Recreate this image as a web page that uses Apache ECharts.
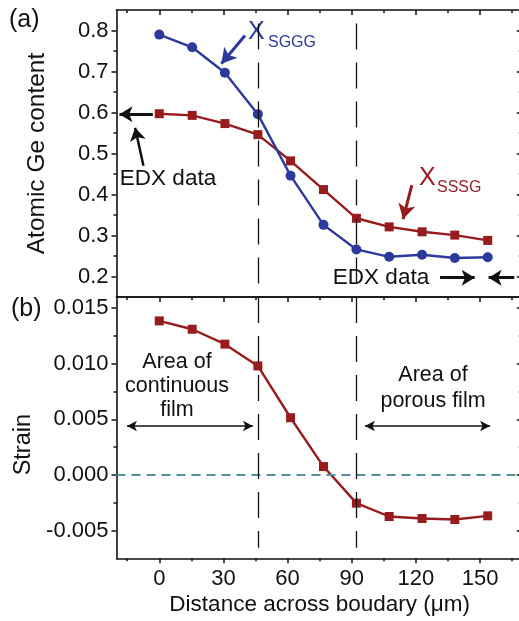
<!DOCTYPE html>
<html>
<head>
<meta charset="utf-8">
<script src="https://cdn.jsdelivr.net/npm/echarts@6/dist/echarts.min.js"></script>
<style>html,body{margin:0;padding:0;background:#fff;}#c{width:519px;height:621px;}</style>
</head>
<body>
<div id="c"></div>
<script>
// ---------- data ----------
const distance = [0, 15.4, 30.7, 46.1, 61.4, 76.8, 92.2, 107.5, 122.9, 138.2, 153.6];
const xSGGG = [0.790, 0.759, 0.697, 0.596, 0.446, 0.326, 0.266, 0.248, 0.253, 0.245, 0.247];
const xSSSG = [0.597, 0.593, 0.573, 0.546, 0.482, 0.412, 0.342, 0.321, 0.309, 0.301, 0.288];
const strain = [0.01385, 0.0131, 0.01176, 0.0098, 0.00514, 0.00075, -0.00254, -0.00374, -0.00392, -0.00401, -0.00368];
const xMajorTicks = [0, 30, 60, 90, 120, 150];
const xMinorTicks = [-15, 15, 45, 75, 105, 135, 165];
const geMajorTicks = [0.2, 0.3, 0.4, 0.5, 0.6, 0.7, 0.8];
const geMinorTicks = [0.25, 0.35, 0.45, 0.55, 0.65, 0.75];
const strainMajorTicks = [-0.005, 0, 0.005, 0.01, 0.015];
const strainMinorTicks = [-0.0025, 0.0025, 0.0075, 0.0125];
const boundaryX = [46.2, 92.1];
const edxLeft = 0.596;
const edxRight = 0.197;

// ---------- styling ----------
const FONT = 'Liberation Sans, Arial, Helvetica, sans-serif';
const BLUE = '#2c3a9c';
const RED = '#981b1e';
const BLACK = '#111';

const chart = echarts.init(document.getElementById('c'), null, {renderer: 'canvas'});

const xRange = {min: -20, max: 170};
const geRange = {min: 0.15, max: 0.85};
const strainRange = {min: -0.0075, max: 0.016};

function xAx(grid, pos, ticks, len, inside, line, labels, extra) {
  return Object.assign({
    type: 'value', gridIndex: grid, position: pos, min: xRange.min, max: xRange.max,
    axisLine: {show: line, onZero: false, lineStyle: {color: BLACK, width: 1.6}},
    axisTick: {show: true, inside: inside, length: len, customValues: ticks, lineStyle: {color: BLACK, width: 1.5}},
    axisLabel: labels ? {show: true, customValues: ticks, color: BLACK, fontSize: 22, fontFamily: FONT, margin: 10} : {show: false},
    splitLine: {show: false}
  }, extra || {});
}
function yAx(grid, pos, range, ticks, len, inside, line, labels, extra) {
  return Object.assign({
    type: 'value', gridIndex: grid, position: pos, min: range.min, max: range.max,
    axisLine: {show: line, onZero: false, lineStyle: {color: BLACK, width: 1.6}},
    axisTick: {show: true, inside: inside, length: len, customValues: ticks, lineStyle: {color: BLACK, width: 1.5}},
    axisLabel: labels ? Object.assign({show: true, customValues: ticks, color: BLACK, fontSize: 22, fontFamily: FONT, margin: 8}, labels) : {show: false},
    splitLine: {show: false}
  }, extra || {});
}

function arrow(p1, p2, color, width, both, size) {
  return [
    {coord: p1, symbol: both ? 'arrow' : 'none', symbolSize: size, lineStyle: {color: color, width: width, type: 'solid'}},
    {coord: p2, symbol: 'arrow', symbolSize: size}
  ];
}

const option = {
  animation: false,
  backgroundColor: '#fff',
  grid: [
    {left: 116.5, top: 10, width: 406.3, height: 287, outerBoundsMode: 'none', containLabel: false},
    {left: 116.5, top: 297, width: 406.3, height: 261.3, outerBoundsMode: 'none', containLabel: false}
  ],
  xAxis: [
    xAx(0, 'bottom', xMajorTicks, 5, false, true, false),
    xAx(0, 'top', xMajorTicks, 5, true, true, false),
    xAx(0, 'bottom', xMinorTicks, 3, false, false, false),
    xAx(0, 'top', xMinorTicks, 3, true, false, false),
    xAx(1, 'bottom', xMajorTicks, 5, false, true, true, {
      name: 'Distance across boudary (\u03bcm)', nameLocation: 'middle', nameGap: 35,
      nameTextStyle: {color: BLACK, fontSize: 22.5, fontFamily: FONT}
    }),
    xAx(1, 'top', xMajorTicks, 5, true, true, false),
    xAx(1, 'bottom', xMinorTicks, 3, false, false, false),
    xAx(1, 'top', xMinorTicks, 3, true, false, false)
  ],
  yAxis: [
    yAx(0, 'left', geRange, geMajorTicks, 5, false, true, {formatter: v => v.toFixed(1)}, {
      name: 'Atomic Ge content', nameLocation: 'middle', nameGap: 67,
      nameTextStyle: {color: BLACK, fontSize: 24.5, fontFamily: FONT}
    }),
    yAx(0, 'right', geRange, geMajorTicks, 6, true, true, null),
    yAx(0, 'left', geRange, geMinorTicks, 3, false, false, null),
    yAx(0, 'right', geRange, geMinorTicks, 4, true, false, null),
    yAx(1, 'left', strainRange, strainMajorTicks, 5, false, true, {formatter: v => v.toFixed(3)}, {
      name: 'Strain', nameLocation: 'middle', nameGap: 79,
      nameTextStyle: {color: BLACK, fontSize: 23.5, fontFamily: FONT, padding: [0, 34, 0, 0]}
    }),
    yAx(1, 'right', strainRange, strainMajorTicks, 6, true, true, null),
    yAx(1, 'left', strainRange, strainMinorTicks, 3, false, false, null),
    yAx(1, 'right', strainRange, strainMinorTicks, 4, true, false, null)
  ],
  series: [
    {
      name: 'X_SSSG', type: 'line', xAxisIndex: 0, yAxisIndex: 0,
      data: distance.map((d, i) => [d, xSSSG[i]]),
      symbol: 'rect', symbolSize: 9, itemStyle: {color: RED},
      lineStyle: {color: RED, width: 2.4}, z: 3
    },
    {
      name: 'X_SGGG', type: 'line', xAxisIndex: 0, yAxisIndex: 0,
      data: distance.map((d, i) => [d, xSGGG[i]]),
      symbol: 'circle', symbolSize: 10, itemStyle: {color: BLUE},
      lineStyle: {color: BLUE, width: 2.4}, z: 4,
      markLine: {
        silent: true, symbol: 'none', label: {show: false}, z: 5,
        data: [
          arrow([40.1, 0.788], [29.0, 0.719], BLUE, 3, false, [13, 15]),
          arrow([118.1, 0.423], [114.0, 0.340], RED, 3, false, [13, 15]),
          arrow([-7.4, 0.470], [-11.3, 0.563], BLACK, 2.5, false, [12, 13]),
          arrow([-3.0, edxLeft], [-18.6, edxLeft], BLACK, 3, false, [12, 13]),
          arrow([131.3, edxRight], [147.5, edxRight], BLACK, 3, false, [12, 13]),
          arrow([166, edxRight], [154.0, edxRight], BLACK, 3, false, [12, 13]),
          ...boundaryX.map(b => [
            {coord: [b, 0.817], symbol: 'none', lineStyle: {color: BLACK, width: 1.3, type: [26, 13]}},
            {coord: [b, geRange.min], symbol: 'none'}
          ])
        ]
      }
    },
    {
      name: 'Strain', type: 'line', xAxisIndex: 4, yAxisIndex: 4,
      data: distance.map((d, i) => [d, strain[i]]),
      symbol: 'rect', symbolSize: 9, itemStyle: {color: RED},
      lineStyle: {color: RED, width: 2.4}, z: 3,
      markLine: {
        silent: true, symbol: 'none', label: {show: false}, z: 5,
        data: [
          [{coord: [xRange.min, 0], symbol: 'none', lineStyle: {color: '#5b8e9c', width: 2, type: [9, 6]}},
           {coord: [xRange.max, 0], symbol: 'none'}],
          ...boundaryX.map(b => [
            {coord: [b, strainRange.max], symbol: 'none', lineStyle: {color: BLACK, width: 1.3, type: [26, 13]}},
            {coord: [b, -0.00655], symbol: 'none'}
          ]),
          arrow([-15.1, 0.0044], [43.8, 0.0044], BLACK, 1.5, true, [8, 10]),
          arrow([96.2, 0.0044], [154.7, 0.0044], BLACK, 1.5, true, [8, 10])
        ]
      }
    }
  ],
  graphic: [
    {type: 'text', left: 9, top: 8, style: {text: '(a)', fontSize: 25, fontFamily: FONT, fill: BLACK}},
    {type: 'text', left: 11, top: 297, style: {text: '(b)', fontSize: 25, fontFamily: FONT, fill: BLACK}},
    {type: 'text', left: 248, top: 20, style: {text: 'X', fontSize: 25, fontFamily: FONT, fill: BLUE}},
    {type: 'text', left: 268, top: 35, style: {text: 'SGGG', fontSize: 16, fontFamily: FONT, fill: BLUE}},
    {type: 'text', left: 419, top: 166, style: {text: 'X', fontSize: 25, fontFamily: FONT, fill: RED}},
    {type: 'text', left: 437, top: 180, style: {text: 'SSSG', fontSize: 16, fontFamily: FONT, fill: RED}},
    {type: 'text', x: 168, y: 179, style: {text: 'EDX data', fontSize: 22.5, fontFamily: FONT, fill: BLACK, align: 'center', verticalAlign: 'middle'}},
    {type: 'text', x: 381, y: 278, style: {text: 'EDX data', fontSize: 22.5, fontFamily: FONT, fill: BLACK, align: 'center', verticalAlign: 'middle'}},
    {type: 'text', x: 177, y: 386, style: {text: 'Area of\ncontinuous\nfilm', fontSize: 21.5, lineHeight: 24, fontFamily: FONT, fill: BLACK, align: 'center', verticalAlign: 'middle'}},
    {type: 'text', x: 433, y: 388, style: {text: 'Area of\nporous film', fontSize: 21.5, lineHeight: 26, fontFamily: FONT, fill: BLACK, align: 'center', verticalAlign: 'middle'}}
  ]
};
chart.setOption(option);
</script>
</body>
</html>
